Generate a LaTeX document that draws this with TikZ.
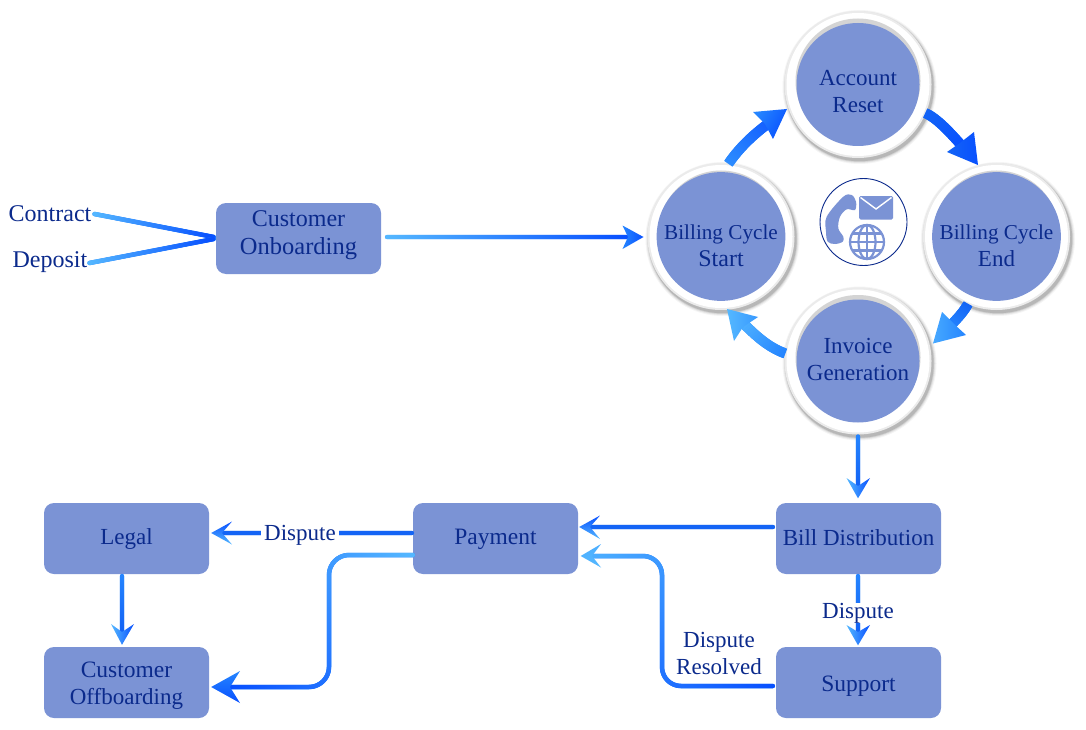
\documentclass[tikz,border=0pt]{standalone}
\usepackage{fontspec}
\setmainfont{Liberation Serif}
\usetikzlibrary{decorations.markings,calc}
\definecolor{boxfill}{HTML}{7B93D5}
\definecolor{ink}{HTML}{0B2A8C}
\definecolor{glight}{HTML}{55B8FF}
\definecolor{gmid}{HTML}{2585FF}
\definecolor{gdark}{HTML}{0850FF}
\definecolor{gflat}{HTML}{1464F5}
\newcommand{\mixfrac}{\pgfmathsetmacro{\mixval}{min(100,100*(\pgfkeysvalueof{/pgf/decoration/mark info/distance from start}/\pgfdecoratedpathlength))}}
\newcommand{\sz}[2]{{\fontsize{#1}{27}\selectfont #2}}
% text nudges: move a node's text down (first line) or up (last line)
\newcommand{\nudgedown}[1]{\rule{0pt}{\dimexpr 15.7pt+2\dimexpr #1pt\relax\relax}}
\newcommand{\nudgeup}[1]{\rule[\dimexpr -5pt-2\dimexpr #1pt\relax\relax]{0pt}{0pt}}
\tikzset{
  txt/.style={font=\fontsize{23}{27}\selectfont,text=ink,align=center,inner sep=0pt},
  procbox/.style={txt,rectangle,rounded corners=10pt,fill=boxfill,minimum width=165pt,minimum height=71pt},
  flowline/.style 2 args={line width=4.5pt,color=gmid,line cap=round,
    postaction={decorate,decoration={markings,
      mark=between positions 0 and 1 step 1pt with {\mixfrac
        \fill[#2!\mixval!#1] (0,0) circle[radius=2.25pt];}}}},
  bandline/.style 2 args={line width=10pt,color=gmid,line cap=butt,
    postaction={decorate,decoration={markings,
      mark=between positions 0 and 1 step 1pt with {\mixfrac
        \fill[#2!\mixval!#1] (-0.7pt,-5pt) rectangle (0.7pt,5pt);}}}},
  ringrim/.style={circle,fill=black!8,minimum size=147pt,inner sep=0pt},
  ringface/.style={txt,circle,fill=boxfill,minimum size=123pt},
  iconpart/.style={fill=boxfill,draw=none},
  iconline/.style={draw=boxfill,line width=2.2pt}
}
% #1 shading options, then tip, barb, notch, barb
\newcommand{\arrowhd}[5]{\shade[#1] #2 -- #3 -- #4 -- #5 -- cycle;}
% name, x, y, label
\newcommand{\ringnode}[4]{
  \foreach \rr/\op in {77/.04,76/.06,75/.09,74.2/.12}{
    \fill[black,opacity=\op] ($(#2,#3)+(1.5,2.5)$) circle[radius=\rr pt];}
  \node[ringrim] (#1) at (#2,#3) {};
  \fill[white] (#2,#3) circle[radius=71.5pt];
  \fill[black!17] ($(#2,#3)+(0,-3.5)$) circle[radius=62.5pt];
  \node[ringface] (#1-face) at (#2,#3) {#4};
}
\begin{document}
\begin{tikzpicture}[x=1pt,y=-1pt]
\useasboundingbox (0,0) rectangle (1086,730);
\fill[white] (0,0) rectangle (1086,730);

% boxes
\node[procbox] (onboard) at (298.5,238.5) {\sz{24}{Customer}\\[1pt]\sz{24.5}{Onboarding}\nudgeup{3}};
\node[procbox] (legal) at (126.5,538.5) {\nudgedown{1}Legal};
\node[procbox] (offboard) at (126.5,682.5) {\nudgedown{3.5}\sz{23.5}{Customer}\\[0pt]Offboarding};
\node[procbox] (payment) at (495.5,538.5) {\nudgedown{1}\sz{23.5}{Payment}};
\node[procbox] (bill) at (858.5,538.5) {Bill Distribution\nudgeup{-1.5}};
\node[procbox] (support) at (858.5,682.5) {\nudgedown{4}\sz{23.5}{Support}};

% rings
\ringnode{reset}{858}{84.5}{\nudgedown{7}Account\\Reset}
\ringnode{cycstart}{721}{236.5}{\nudgedown{9}\sz{21.2}{Billing Cycle}\\\sz{24}{Start}}
\ringnode{cycend}{996.5}{236.5}{\nudgedown{9}\sz{21.2}{Billing Cycle}\\\sz{23}{End}}
\ringnode{invoice}{858}{361}{Invoice\\Generation\nudgeup{-0.5}}

% free labels
\node[txt,font=\fontsize{24}{27}\selectfont] (contract) at (50,214) {Contract};
\node[txt,font=\fontsize{24}{27}\selectfont] (deposit) at (50,262) {Deposit};

% icon
\node[circle,draw=ink,line width=0.9pt,minimum size=87pt,inner sep=0pt] (icon) at (863.5,222) {};
\fill[iconpart] plot[smooth cycle,tension=0.55] coordinates {(843.3,196.7) (851.7,195) (856,201.7) (855,210) (846.7,209.3) (840,216.7) (838.3,228.3) (843.3,236.7) (842.7,241.7) (835,244) (827.7,241.7) (826,231.7) (826.7,216.7)};
\fill[iconpart,rounded corners=1.5pt] (859,196) rectangle (893,219.5);
\draw[white,line width=1.4pt] (860.5,197.5) -- (876,209) -- (891.5,197.5);
\draw[iconline] (867,242) circle[radius=17pt];
\draw[iconline] (867,242) ellipse[x radius=8.5pt,y radius=17pt];
\draw[iconline] (867,225) -- (867,259);
\draw[iconline] (850,242) -- (884,242);
\draw[iconline] (852.5,233.5) -- (881.5,233.5);
\draw[iconline] (852.5,250.5) -- (881.5,250.5);

% inputs to onboarding
\draw[flowline={glight}{gdark}] ([xshift=3pt]contract.east) -- ([xshift=-2pt,yshift=1.5pt]onboard.west);
\draw[flowline={glight}{gdark}] ([xshift=2pt,yshift=-1pt]deposit.east) -- ([xshift=-2pt,yshift=-0.5pt]onboard.west);

% onboarding -> billing start
\coordinate (tipA) at (643.5,237);
\draw[flowline={glight}{gdark}] ([xshift=6pt,yshift=1.5pt]onboard.east) -- (628,237);
\arrowhd{left color=gmid,right color=gdark}{(tipA)}{(622.5,225.5)}{(628,237)}{(622.5,249)}

% ring arrows
\coordinate (e1) at (769,123);
\draw[bandline={gmid!85!glight}{gdark}] (cycstart.84) .. controls (738,150) and (750,137) .. (e1);
\arrowhd{left color=gmid,right color=gdark,shading angle=60}{(787,109)}{(753,112)}{(765,124)}{(773,139)}

\coordinate (e2) at (962,146);
\draw[bandline={gflat}{gdark}] (reset.-23) .. controls (936,118) and (947,129) .. (e2);
\arrowhd{left color=gflat,right color=gdark}{(978,165)}{(974,132)}{(960,143)}{(947,152)}

\coordinate (e3) at (950,326);
\draw[bandline={gflat}{gmid}] (cycend.-113) .. controls (964,311) and (959,317) .. (e3);
\arrowhd{left color=glight!70!gmid,right color=gmid}{(933,343.5)}{(942,312)}{(955,325)}{(966,335)}

\coordinate (e4) at (743,323);
\draw[bandline={gmid}{glight!85!gmid}] (invoice.174) .. controls (768,347) and (756,336) .. (e4);
\arrowhd{left color=glight,right color=gmid!60!glight}{(727,309)}{(758,317)}{(743,327)}{(734,341)}

% invoice -> bill
\draw[flowline={gmid}{gflat}] ([yshift=-2pt]invoice.south) -- (858,486);
\arrowhd{left color=glight,right color=gdark}{([yshift=4.5pt,xshift=-0.5pt]bill.north)}{(846.5,478)}{(858,486)}{(870,478)}

% bill -> payment
\draw[flowline={gflat}{gflat}] ([yshift=11.5pt,xshift=-3pt]bill.west) -- (590,527);
\arrowhd{top color=gdark,bottom color=glight}{([yshift=11.5pt,xshift=1pt]payment.east)}{(600,515.5)}{(590,527)}{(600,539)}

% support -> payment
\draw[flowline={gdark}{glight!80!gmid},rounded corners=19pt] ([yshift=-3.5pt,xshift=-3pt]support.west) -- (662,686) -- (662,556) -- (592,556);
\arrowhd{top color=glight!80!gmid,bottom color=glight}{([yshift=-17.5pt,xshift=2.5pt]payment.east)}{(601,544)}{(592,556)}{(601,567.5)}

% payment -> legal
\draw[flowline={gflat}{gflat}] ([yshift=5.5pt,xshift=-1pt]payment.west) -- (222,533);
\arrowhd{top color=gdark,bottom color=glight}{([yshift=5.5pt,xshift=2pt]legal.east)}{(232,521.5)}{(222,533)}{(232,544.5)}
\node[txt,fill=white,inner xsep=3pt,inner ysep=1pt] (dispA) at (300,535) {Dispute};

% legal -> offboarding
\draw[flowline={gmid}{gflat}] ([xshift=-4.5pt,yshift=-2pt]legal.south) -- (122,632);
\arrowhd{left color=glight,right color=gdark}{([xshift=-4.5pt,yshift=2pt]offboard.north)}{(111,624)}{(122,632)}{(134,624)}

% payment -> offboarding
\draw[flowline={glight}{gdark},rounded corners=20pt] ([yshift=-16.5pt]payment.west) -- (329,555) -- (329,687) -- (230,687);
\arrowhd{top color=gmid,bottom color=gdark}{([yshift=-4.5pt,xshift=2pt]offboard.east)}{(240,671)}{(230,687)}{(240,703)}

% bill -> support
\draw[flowline={gmid}{gflat}] ([yshift=-2pt,xshift=-0.5pt]bill.south) -- (858,632);
\arrowhd{left color=glight,right color=gdark}{([yshift=1.5pt,xshift=-0.5pt]support.north)}{(846.5,625)}{(858,632)}{(870,625)}
\node[txt,fill=white,inner xsep=2pt,inner ysep=0pt] (dispB) at (858,613) {Dispute};

\node[txt] (dispC) at (719,653.5) {Dispute\\Resolved};
\end{tikzpicture}
\end{document}
